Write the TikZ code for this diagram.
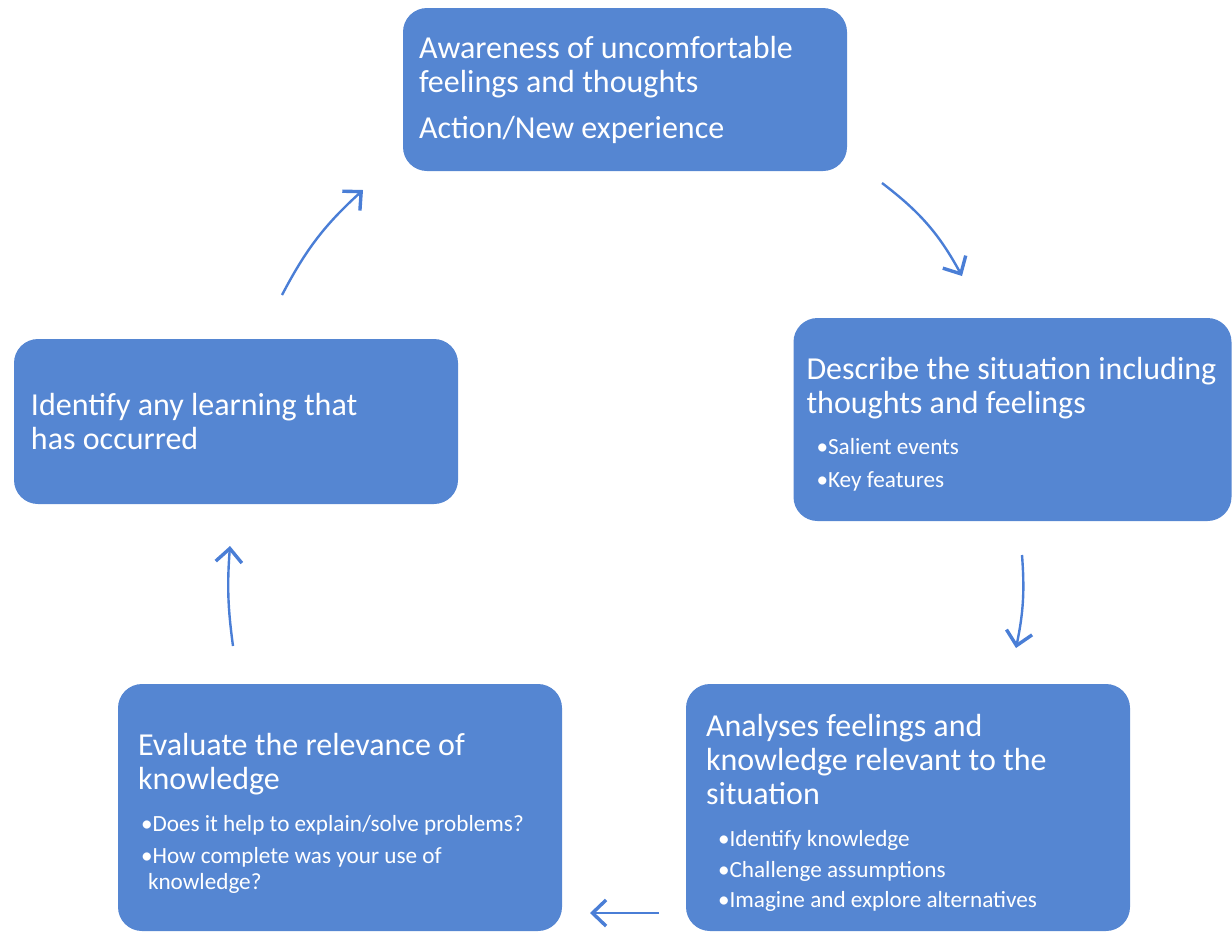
\documentclass[tikz,border=0pt]{standalone}
\usepackage{fontspec}
\setmainfont{Carlito}
\usetikzlibrary{arrows.meta}
\definecolor{boxblue}{RGB}{85,134,210}
\definecolor{arrowblue}{RGB}{74,126,214}
\tikzset{>={Straight Barb[length=2.4mm,width=4.6mm,line width=1.7pt]}}

\begin{document}
\begin{tikzpicture}[x=0.5pt,y=-0.5pt]
\tikzstyle{stage}=[rectangle,rounded corners=12pt,fill=boxblue,text=white,align=flush left,inner ysep=0pt,font=\fontsize{16}{17}\selectfont]
\tikzstyle{flow}=[->,draw=arrowblue,line width=1.2pt]

    \useasboundingbox (0,0) rectangle (1232,934);

    \node[stage, minimum height=81.5pt, inner xsep=8pt, text width=206pt] (aware) at (625,89.5)
      {Awareness of uncomfortable\\feelings and thoughts\\[6pt]Action/New experience\par};
    \node[stage, minimum height=101.5pt, inner xsep=6.5pt, text width=206pt] (describe) at (1012.5,419.5)
      {\rule{0pt}{16pt}Describe the situation including\\thoughts and feelings\par\vspace{7.5pt}
       \fontsize{11.6}{13}\selectfont\hspace*{5pt}•Salient events\\[3.5pt]\hspace*{5pt}•Key features\par};
    \node[stage, minimum height=123.5pt, inner xsep=10pt, text width=202pt] (analyse) at (908,807.5)
      {\rule{0pt}{16pt}Analyses feelings and\\knowledge relevant to the\\situation\par\vspace{8pt}
       \fontsize{11.6}{13}\selectfont\hspace*{6pt}•Identify knowledge\\[2.5pt]\hspace*{6pt}•Challenge assumptions\\[2pt]\hspace*{6pt}•Imagine and explore alternatives\par};
    \node[stage, minimum height=123.5pt, inner xsep=10pt, text width=202pt] (evaluate) at (340,807.5)
      {\rule{0pt}{17pt}Evaluate the relevance of\\knowledge\par\vspace{8pt}
       \fontsize{11.6}{13}\selectfont\hspace*{1.5pt}•Does it help to explain/solve problems?\\[3pt]\hspace*{1.5pt}•How complete was your use of\\\hspace*{5pt}knowledge?\par};
    \node[stage, minimum height=82.5pt, inner xsep=8.5pt, text width=205pt] (identify) at (236,421.5)
      {Identify any learning that\\has occurred\par};

    % arrow ends float between the boxes
    \coordinate (a1) at (882,183);  \coordinate (b1) at (962,276);
    \coordinate (a2) at (1022,555); \coordinate (b2) at (1016,648);
    \coordinate (a3) at (659,913);  \coordinate (b3) at (590,913);
    \coordinate (a4) at (233,646);  \coordinate (b4) at (230,546);
    \coordinate (a5) at (282,295);  \coordinate (b5) at (363,190);

    \draw[flow] (a1) to[bend left=12] (b1);
    \draw[flow] (a2) to[bend left=8] (b2);
    \draw[flow] (a3) -- (b3);
    \draw[flow] (a4) to[bend left=6] (b4);
    \draw[flow] (a5) to[bend left=10] (b5);

\end{tikzpicture}
\end{document}
